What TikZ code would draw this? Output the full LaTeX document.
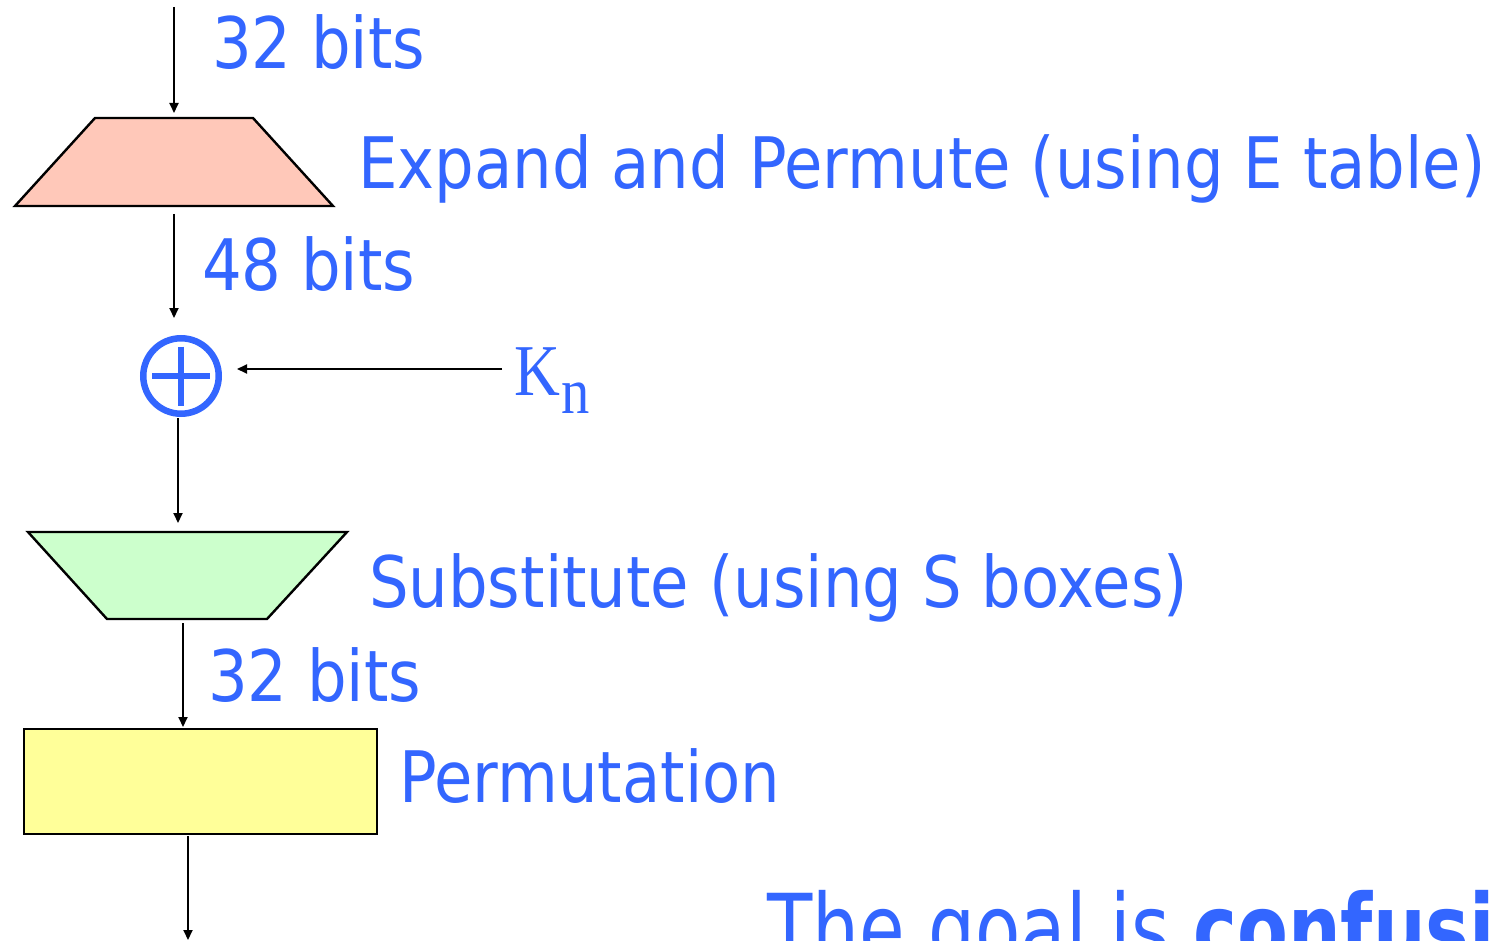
\documentclass[tikz,border=0pt]{standalone}
\usepackage{fontspec}
\setmainfont{DejaVu Sans}[FakeStretch=0.88]
\newfontfamily\goalfont{DejaVu Sans}[FakeStretch=0.78]
\newfontfamily\keyfont{Liberation Serif}[FakeStretch=0.87]
\usetikzlibrary{arrows.meta,calc}

\definecolor{labelblue}{HTML}{3366FF}
\definecolor{expandfill}{HTML}{FFC8B9}
\definecolor{substfill}{HTML}{CCFFCC}
\definecolor{permfill}{HTML}{FFFF99}

\begin{document}
\begin{tikzpicture}[x=1pt,y=-1pt,
  labeltext/.style={text=labelblue, font=\fontsize{71}{80}\selectfont,
                    anchor=base west, inner sep=0pt, outer sep=0pt},
  flow/.style={draw=black, line width=2pt, -{Triangle[length=10pt,width=9pt]}},
  stagebox/.style={inner sep=0pt, outer sep=0pt},
  outline/.style={draw=black, line width=2.4pt, line join=miter}]

% page frame
\useasboundingbox (0,0) rectangle (1490,941);

% stage boxes (frames for the drawn shapes)
\node[stagebox, minimum width=318pt, minimum height=88pt] (expand) at (174,162) {};
\node[stagebox, minimum width=319pt, minimum height=87pt] (subst)  at (187.5,575.5) {};
\node[stagebox, outline, fill=permfill, minimum width=353pt, minimum height=105pt] (perm) at (200.5,781.5) {};

% expansion trapezium (wide side down)
\filldraw[outline, fill=expandfill]
  (expand.south west) -- (expand.south east)
  -- ([xshift=-80pt]expand.north east) -- ([xshift=80pt]expand.north west) -- cycle;

% substitution trapezium (wide side up)
\filldraw[outline, fill=substfill]
  (subst.north west) -- (subst.north east)
  -- ([xshift=-80pt]subst.south east) -- ([xshift=79pt]subst.south west) -- cycle;

% xor
\node[circle, draw=labelblue, line width=6.5pt, minimum size=75.5pt, inner sep=0pt] (xor) at (181,376) {};
\draw[labelblue, line width=6.5pt]
  ([xshift=-29pt]xor.center) -- ([xshift=29pt]xor.center)
  ([yshift=29.5pt]xor.center) -- ([yshift=-29.5pt]xor.center);

% round key
\node[text=labelblue, anchor=base west, inner sep=0pt, outer sep=0pt,
      font=\keyfont\fontsize{73}{80}\selectfont] (kn) at (514,395)
  {K\kern2pt\raisebox{-18pt}{\fontsize{65}{65}\selectfont n}};

% labels
\node[labeltext] (l32a)   at (212,69)  {32 bits};
\node[labeltext] (lexp)   at (358,189) {Expand and Permute (using E table)};
\node[labeltext] (l48)    at (202,290) {48 bits};
\node[labeltext] (lsub)   at (369,607) {Substitute (using S boxes)};
\node[labeltext] (l32b)   at (208,701) {32 bits};
\node[labeltext] (lperm)  at (399,802) {Permutation};

\node[text=labelblue, anchor=base west, inner sep=0pt,
      font=\goalfont\fontsize{95}{100}\selectfont] (goal) at (767,962)
  {The goal is \textbf{confusion}};

% connectors
\coordinate (in)   at (174,7);
\coordinate (out)  at (188,940);
\coordinate (kin)  at (502,369);
\draw[flow, shorten >=5pt] (in) -- (in |- expand.north);
\draw[flow, shorten <=8pt, shorten >=17pt] (expand.south) -- (expand.south |- xor.north);
\draw[flow, shorten <=12pt, shorten >=15pt] (kn.west |- kin) -- (xor.east |- kin);
\draw[flow, shorten <=1pt, shorten >=9pt] ([xshift=-3pt]xor.south) -- ([xshift=-3pt]xor.south |- subst.north);
\draw[flow, shorten <=4pt, shorten >=2pt] ([xshift=-4.5pt]subst.south) -- ([xshift=-4.5pt]subst.south |- perm.north);
\draw[flow, shorten <=2pt] (perm.south -| out) -- (out);
\end{tikzpicture}
\end{document}
